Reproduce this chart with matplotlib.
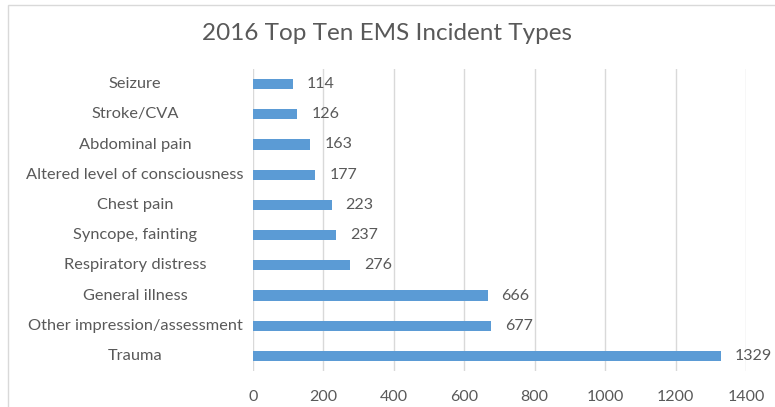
import matplotlib.pyplot as plt
from matplotlib.patches import Rectangle

categories = ["Seizure", "Stroke/CVA", "Abdominal pain", "Altered level of consciousness",
              "Chest pain", "Syncope, fainting", "Respiratory distress", "General illness",
              "Other impression/assessment", "Trauma"]
counts = [114, 126, 163, 177, 223, 237, 276, 666, 677, 1329]
xticks = [0, 200, 400, 600, 800, 1000, 1200, 1400]

text_color = "#595959"
bar_color = "#5B9BD5"
grid_color = "#D9D9D9"

plt.rcParams['font.family'] = ['Lato', 'DejaVu Sans']

fig = plt.figure(figsize=(7.75, 4.07), dpi=100)
W, H = 775, 407
ax = fig.add_axes([253 / W, 1 - 371 / H, (746 - 253) / W, (371 - 69) / H])

ypos = list(range(len(categories)))
ax.barh(ypos, counts, height=0.34, color=bar_color, zorder=3)
for y, v in zip(ypos, counts):
    ax.annotate(str(v), (v, y), xytext=(10, 0), textcoords="offset points",
                va="center", ha="left", fontsize=11.5, color=text_color)

ax.set_xlim(0, 1400)
ax.set_ylim(len(categories) - 0.5, -0.5)
ax.set_xticks(xticks)
ax.set_xticklabels([str(t) for t in xticks], fontsize=11.5, color=text_color)
ax.set_yticks(ypos)
ax.set_yticklabels([])
ax.tick_params(axis="both", length=0)
ax.tick_params(axis="x", pad=14)

# category names are centred in the label column
for y, name in zip(ypos, categories):
    ax.annotate(name, (0, y), xycoords=("axes fraction", "data"),
                xytext=(-(253 - 135) * 0.72, 0), textcoords="offset points",
                ha="center", va="center", fontsize=11.8, color=text_color)

ax.grid(axis="x", color=grid_color, linewidth=1, zorder=0)
for s in ax.spines.values():
    s.set_visible(False)

fig.text(0.5, 1 - 34 / H, "2016 Top Ten EMS Incident Types", ha="center", va="center",
         fontsize=17.5, color=text_color)

# chart frame
fig.patches.append(Rectangle((8 / W, -0.05), 1.2, 1 - 5 / H + 0.05, transform=fig.transFigure,
                             fill=False, edgecolor=grid_color, linewidth=1))

fig.savefig("out.png", dpi=100, facecolor="white")
